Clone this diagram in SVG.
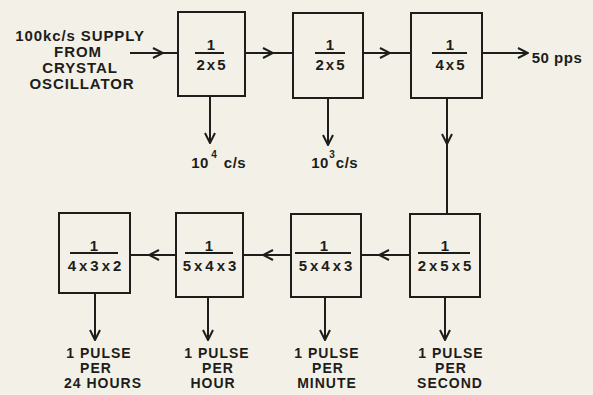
<svg xmlns="http://www.w3.org/2000/svg" width="593" height="395" viewBox="0 0 593 395">
<defs>
<style>
.bg{fill:#f3f1e7}
.box{fill:none;stroke:#1d1d1b;stroke-width:2}
.ln{fill:none;stroke:#1d1d1b;stroke-width:2}
.c{stroke:#1d1d1b;stroke-width:2;fill:none}
text{font-family:"Liberation Sans",Arial,sans-serif;font-weight:bold;fill:#1d1d1b;text-anchor:middle}
.fr{font-size:15px;letter-spacing:2px}
.fr3{font-size:15px;letter-spacing:3px}
.lb{font-size:15px;letter-spacing:0.5px}
.pl{font-size:14px;letter-spacing:1px}
.ll{font-size:15px;letter-spacing:0.9px}
</style>
<marker id="ah" viewBox="-1 -1 12 12" markerWidth="12" markerHeight="12" refX="10" refY="5" orient="auto" markerUnits="userSpaceOnUse">
<path d="M0,0 L10,5 L0,10" fill="none" stroke="#1d1d1b" stroke-width="2"/>
</marker>
</defs>
<rect class="bg" x="0" y="0" width="593" height="395"/>

<g id="connectors">
<path class="c" d="M130,53 L163,53 L178,53" marker-mid="url(#ah)"/>
<path class="c" d="M245,53 L273,53 L293,53" marker-mid="url(#ah)"/>
<path class="c" d="M363,53 L390,53 L411,53" marker-mid="url(#ah)"/>
<path class="c" d="M482,53 L528,53" marker-end="url(#ah)"/>
<path class="c" d="M210,96 L210,143" marker-end="url(#ah)"/>
<path class="c" d="M328,98 L328,145" marker-end="url(#ah)"/>
<path class="c" d="M447,98 L447,144 L447,214" marker-mid="url(#ah)"/>
<path class="c" d="M410,255 L379,255 L361,255" marker-mid="url(#ah)"/>
<path class="c" d="M291,255 L263,255 L243,255" marker-mid="url(#ah)"/>
<path class="c" d="M176,255 L149,255 L130,255" marker-mid="url(#ah)"/>
<path class="c" d="M95,294 L95,340" marker-end="url(#ah)"/>
<path class="c" d="M208,297 L208,340" marker-end="url(#ah)"/>
<path class="c" d="M325,297 L325,340" marker-end="url(#ah)"/>
<path class="c" d="M445,297 L445,340" marker-end="url(#ah)"/>
</g>

<g id="input">
<text class="ll" x="80" y="41">100kc/s SUPPLY</text>
<text class="ll" x="78" y="57">FROM</text>
<text class="ll" x="80" y="73">CRYSTAL</text>
<text class="ll" x="82" y="89">OSCILLATOR</text>
</g>

<g id="div1">
<rect class="box" x="178" y="12" width="67" height="84"/>
<text class="fr" x="212" y="50">1</text>
<line class="ln" x1="195" y1="53" x2="224" y2="53"/>
<text class="fr" x="212" y="70">2x5</text>
</g>

<g id="div2">
<rect class="box" x="293" y="13" width="70" height="85"/>
<text class="fr" x="331" y="50">1</text>
<line class="ln" x1="315" y1="53" x2="345" y2="53"/>
<text class="fr" x="331" y="70">2x5</text>
</g>

<g id="div3">
<rect class="box" x="411" y="13" width="71" height="85"/>
<text class="fr" x="451" y="50">1</text>
<line class="ln" x1="432" y1="53" x2="467" y2="53"/>
<text class="fr" x="451" y="70">4x5</text>
</g>

<g id="out50">
<text class="lb" x="557" y="63">50 pps</text>
</g>

<g id="out10e4">
<text class="lb" x="200" y="168">10</text>
<text style="font-size:10px" x="214" y="158">4</text>
<text class="lb" x="235" y="168">c/s</text>
</g>

<g id="out10e3">
<text class="lb" x="320" y="168">10</text>
<text style="font-size:10px" x="332" y="158">3</text>
<text class="lb" x="347" y="168">c/s</text>
</g>

<g id="div4">
<rect class="box" x="410" y="214" width="70" height="83"/>
<text class="fr" x="446" y="251">1</text>
<line class="ln" x1="418" y1="253" x2="470" y2="253"/>
<text class="fr3" x="446" y="271">2x5x5</text>
</g>

<g id="div5">
<rect class="box" x="291" y="214" width="70" height="83"/>
<text class="fr" x="325" y="251">1</text>
<line class="ln" x1="295" y1="253" x2="351" y2="253"/>
<text class="fr3" x="327" y="271">5x4x3</text>
</g>

<g id="div6">
<rect class="box" x="176" y="213" width="67" height="84"/>
<text class="fr" x="210" y="251">1</text>
<line class="ln" x1="185" y1="253" x2="233" y2="253"/>
<text class="fr3" x="211" y="271">5x4x3</text>
</g>

<g id="div7">
<rect class="box" x="59" y="213" width="71" height="80"/>
<text class="fr" x="95" y="251">1</text>
<line class="ln" x1="70" y1="253" x2="118" y2="253"/>
<text class="fr3" x="96" y="271">4x3x2</text>
</g>

<g id="lbl24h">
<text class="pl" x="99" y="358">1 PULSE</text>
<text class="pl" x="96" y="373">PER</text>
<text class="pl" x="103" y="388">24 HOURS</text>
</g>
<g id="lblhour">
<text class="pl" x="217" y="358">1 PULSE</text>
<text class="pl" x="218" y="373">PER</text>
<text class="pl" x="213" y="388">HOUR</text>
</g>
<g id="lblmin">
<text class="pl" x="327" y="358">1 PULSE</text>
<text class="pl" x="328" y="373">PER</text>
<text class="pl" x="327" y="388">MINUTE</text>
</g>
<g id="lblsec">
<text class="pl" x="451" y="358">1 PULSE</text>
<text class="pl" x="451" y="373">PER</text>
<text class="pl" x="450" y="388">SECOND</text>
</g>
</svg>
